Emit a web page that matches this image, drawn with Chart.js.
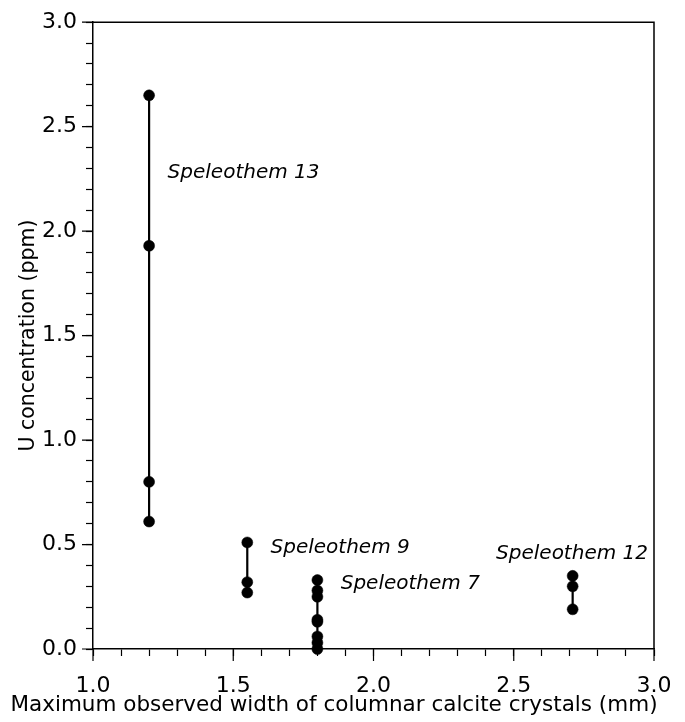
<!DOCTYPE html>
<html>
<head>
<meta charset="utf-8">
<script src="https://cdn.jsdelivr.net/npm/chart.js@4/dist/chart.umd.min.js"></script>
<style>
  html, body { margin: 0; padding: 0; background: #fff; }
  #wrap { width: 685px; height: 722px; }
</style>
</head>
<body>
<div id="wrap"><canvas id="uChart"></canvas></div>
<script>
// maximum crystal width (mm) for each speleothem, and its U concentrations (ppm)
const names = ['Speleothem 13', 'Speleothem 9', 'Speleothem 7', 'Speleothem 12'];
const widths = [1.2, 1.55, 1.8, 2.71];
const s13U = [2.65, 1.93, 0.80, 0.61];
const s9U = [0.51, 0.32, 0.27];
const s7U = [0.33, 0.28, 0.25, 0.14, 0.13, 0.06, 0.03, 0.0];
const s12U = [0.35, 0.30, 0.19];
const uSeries = [s13U, s9U, s7U, s12U];

// where each name sits, in data units
const labelSpots = [[1.266, 2.28], [1.633, 0.486], [1.883, 0.31], [2.437, 0.456]];

const FONT = "'DejaVu Sans', sans-serif";

const isMajor = v => Math.abs(v * 2 - Math.round(v * 2)) < 1e-6;

const datasets = uSeries.map((vals, i) => ({
    label: names[i],
    data: vals.map(u => ({ x: widths[i], y: u })),
    showLine: true,
    borderColor: '#000',
    borderWidth: 2.2,
    backgroundColor: '#000',
    pointRadius: 5.5,
    pointHoverRadius: 5.5,
    pointBorderWidth: 0.5,
    clip: false
}));

const extras = {
    id: 'extras',
    afterDraw(chart) {
        const { ctx, chartArea: a, scales: { x, y } } = chart;
        ctx.save();
        ctx.strokeStyle = '#000';
        ctx.lineWidth = 1.5;
        // frame top + right
        ctx.beginPath();
        ctx.moveTo(a.left, a.top);
        ctx.lineTo(a.right, a.top);
        ctx.lineTo(a.right, a.bottom);
        ctx.stroke();
        // longer marks at labelled ticks
        ctx.lineWidth = 1.2;
        ctx.beginPath();
        x.ticks.forEach(t => {
            if (!isMajor(t.value)) return;
            const px = x.getPixelForValue(t.value);
            ctx.moveTo(px, a.bottom);
            ctx.lineTo(px, a.bottom + 12);
        });
        y.ticks.forEach(t => {
            if (!isMajor(t.value)) return;
            const py = y.getPixelForValue(t.value);
            ctx.moveTo(a.left, py);
            ctx.lineTo(a.left - 11, py);
        });
        ctx.stroke();

        ctx.fillStyle = '#000';
        ctx.textBaseline = 'middle';
        ctx.textAlign = 'left';
        ctx.font = "italic 20px " + FONT;
        names.forEach((n, i) => {
            ctx.fillText(n, x.getPixelForValue(labelSpots[i][0]), y.getPixelForValue(labelSpots[i][1]));
        });

        ctx.textAlign = 'center';
        ctx.font = "21.5px " + FONT;
        ctx.fillText('Maximum observed width of columnar calcite crystals (mm)', 334, 705);
        ctx.restore();
    }
};

new Chart(document.getElementById('uChart').getContext('2d'), {
    type: 'scatter',
    data: { datasets },
    plugins: [extras],
    options: {
        responsive: true,
        maintainAspectRatio: false,
        animation: false,
        layout: { padding: { left: 0, right: 31, top: 18, bottom: 0 } },
        plugins: {
            legend: { display: false },
            tooltip: { enabled: false }
        },
        scales: {
            x: {
                type: 'linear',
                min: 1.0,
                max: 3.0,
                afterFit: s => { s.height = 73; },
                border: { display: true, color: '#000', width: 1.5 },
                grid: { drawOnChartArea: false, drawTicks: true, tickLength: 7, tickColor: '#000', tickWidth: 1.2 },
                ticks: {
                    stepSize: 0.1,
                    autoSkip: false,
                    maxRotation: 0,
                    padding: 9,
                    color: '#000',
                    font: { family: FONT, size: 22, lineHeight: 1.95 },
                    callback: v => isMajor(v) ? v.toFixed(1) : ''
                }
            },
            y: {
                type: 'linear',
                min: 0,
                max: 3.0,
                afterFit: s => { s.width = 93; },
                border: { display: true, color: '#000', width: 1.5 },
                grid: { drawOnChartArea: false, drawTicks: true, tickLength: 7, tickColor: '#000', tickWidth: 1.2 },
                ticks: {
                    stepSize: 0.1,
                    autoSkip: false,
                    padding: 9,
                    color: '#000',
                    font: { family: FONT, size: 22 },
                    callback: v => isMajor(v) ? v.toFixed(1) : ''
                },
                title: {
                    display: true,
                    text: 'U concentration (ppm)',
                    color: '#000',
                    font: { family: FONT, size: 20.5 },
                    padding: { top: 16, bottom: 0 }
                }
            }
        }
    }
});
</script>
</body>
</html>
